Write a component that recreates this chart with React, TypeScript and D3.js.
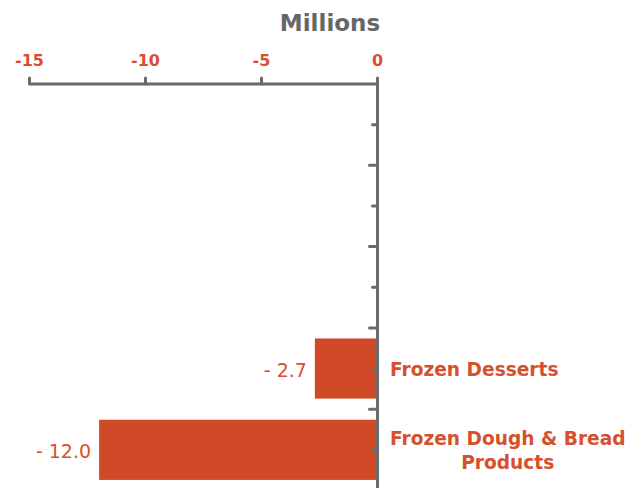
import React from "react";
import * as d3 from "d3";

// Category slots, top to bottom (first three are empty rows)
const categories: string[] = ["cat1", "cat2", "cat3", "Frozen Desserts", "Frozen Dough & Bread Products"];
const categoryLabels: string[] = ["", "", "", "Frozen Desserts", "Frozen Dough & Bread Products"];
const values: (number | null)[] = [null, null, null, -2.7, -12.0];
const xTicks: number[] = [-15, -10, -5, 0];
const axisTitle = "Millions";

const W = 635;
const H = 488;
const BAR = "#D04A28";
const TEXT = "#D6502D";
const AXIS = "#6B6B6B";
const FONT = "'DejaVu Sans', sans-serif";

function measure(text: string, font: string): number {
  const c = document.createElement("canvas").getContext("2d");
  if (!c) return text.length * 10;
  c.font = font;
  return c.measureText(text).width;
}

function wrap(text: string, font: string, maxW: number): string[] {
  const words = text.split(" ");
  const lines: string[] = [];
  let cur = "";
  for (const w of words) {
    const t = cur ? cur + " " + w : w;
    if (cur && measure(t, font) > maxW) {
      lines.push(cur);
      cur = w;
    } else cur = t;
  }
  if (cur) lines.push(cur);
  return lines;
}

const fmt = (v: number) => (v < 0 ? "- " : "") + d3.format(".1f")(Math.abs(v));

export default function App() {
  const x = d3.scaleLinear().domain([-15, 0]).range([29.5, 377.5]);
  const y = d3.scaleBand<string>().domain(categories).range([84, 490.5]).paddingInner(0).paddingOuter(0);
  const barH = y.bandwidth() * 0.74;
  const axisY = 84;
  const x0 = x(0);

  const catFontSize = 18.6;
  const catFont = `bold ${catFontSize}px 'DejaVu Sans'`;
  const labelX = 390;
  const lineH = 24;

  return (
    <svg width={W} height={H} style={{ position: "fixed", left: 0, top: 0, background: "#fff" }} fontFamily={FONT}>
      <text x={330} y={31} textAnchor="middle" fontSize={23} fontWeight="bold" fill="#666666">
        {axisTitle}
      </text>

      {/* value axis along the top */}
      <line x1={x(-15)} x2={x0} y1={axisY} y2={axisY} stroke={AXIS} strokeWidth={3} />
      {xTicks.map((t) => (
        <g key={t}>
          <line x1={x(t)} x2={x(t)} y1={axisY} y2={axisY - 6} stroke={AXIS} strokeWidth={3} strokeLinecap="round" />
          <text x={x(t)} y={66} textAnchor="middle" fontSize={16} fontWeight="bold" fill={TEXT}>
            {t}
          </text>
        </g>
      ))}

      {/* bars */}
      {categories.map((c, i) => {
        const v = values[i];
        if (v == null) return null;
        const cy = (y(c) as number) + y.bandwidth() / 2;
        return (
          <g key={c}>
            <rect x={x(v)} y={cy - barH / 2} width={x0 - x(v)} height={barH} fill={BAR} />
            <text x={x(v) - 8} y={cy + 8.5} textAnchor="end" fontSize={19} fill={TEXT}>
              {fmt(v)}
            </text>
          </g>
        );
      })}

      {/* category axis */}
      <line x1={x0} x2={x0} y1={axisY} y2={H + 5} stroke={AXIS} strokeWidth={3} />
      {categories.map((c, i) => {
        const top = y(c) as number;
        const cy = top + y.bandwidth() / 2;
        return (
          <g key={"t" + c}>
            {i > 0 && <line x1={x0 - 8} x2={x0} y1={top} y2={top} stroke={AXIS} strokeWidth={3} strokeLinecap="round" />}
            <line x1={x0 - 5} x2={x0} y1={cy} y2={cy} stroke={AXIS} strokeWidth={3} strokeLinecap="round" />
          </g>
        );
      })}

      {/* category labels */}
      {categories.map((c, i) => {
        const label = categoryLabels[i];
        if (!label) return null;
        const cy = (y(c) as number) + y.bandwidth() / 2;
        const lines = wrap(label, catFont, 243);
        const widths = lines.map((l) => measure(l, catFont));
        const maxW = Math.max(...widths);
        const cx = labelX + maxW / 2;
        return (
          <text key={"l" + c} fontSize={catFontSize} fontWeight="bold" fill={TEXT} textAnchor="middle">
            {lines.map((l, j) => (
              <tspan key={j} x={cx} y={cy + 7.5 + (j - (lines.length - 1) / 2) * lineH}>
                {l}
              </tspan>
            ))}
          </text>
        );
      })}
    </svg>
  );
}
